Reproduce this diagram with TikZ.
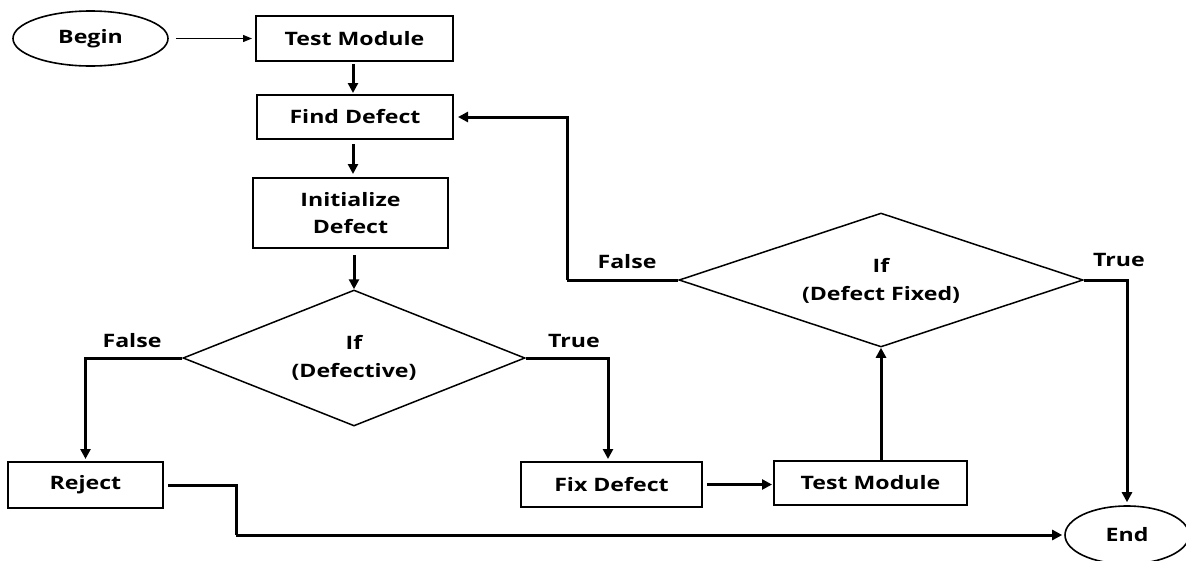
\documentclass[tikz,border=0pt]{standalone}
\usepackage{fontspec}
\setmainfont{Open Sans}[FakeStretch=1.25]
\usetikzlibrary{shapes.geometric,arrows.meta,calc}
\begin{document}
\begin{tikzpicture}[x=1pt,y=-1pt,
  every node/.style={font=\bfseries\fontsize{18.5}{27.5}\selectfont},
  box/.style={draw,line width=2pt,rectangle,inner sep=0pt,align=center},
  oval/.style={draw,line width=1.6pt,ellipse,inner sep=0pt},
  decide/.style={draw,line width=1.5pt,diamond,inner sep=0pt},
  conn/.style={line width=3pt,-{Triangle[length=10pt,width=10pt]}},
  thinconn/.style={line width=1.2pt,-{Triangle[length=9pt,width=7pt]}},
  seg/.style={line width=3pt},
  lbl/.style={inner sep=0pt,align=center}]
\useasboundingbox (0,0) rectangle (1186,560);
\node[oval,minimum width=155pt,minimum height=55pt] (begin) at (90.5,38.5) {Begin};
\node[box,minimum width=197pt,minimum height=45pt] (tm1) at (354.5,38.5) {Test Module};
\node[box,minimum width=196pt,minimum height=44pt] (find) at (355,117) {Find Defect};
\node[box,minimum width=195pt,minimum height=70pt] (init) at (350.5,213) {Initialize\\Defect};
\node[decide,minimum width=342pt,minimum height=136pt] (dec1) at (354,358) {};
\node[lbl] (dec1t) at (354,358) {If\\(Defective)};
\node[decide,minimum width=404pt,minimum height=134pt] (dec2) at (881,280) {};
\node[lbl] (dec2t) at (881,281) {If\\(Defect Fixed)};
\node[box,minimum width=155pt,minimum height=46pt] (reject) at (85.5,485) {Reject};
\node[box,minimum width=181pt,minimum height=45pt] (fix) at (611.5,484.5) {Fix Defect};
\node[box,minimum width=193pt,minimum height=44pt] (tm2) at (870.5,483) {Test Module};
\node[oval,minimum width=124pt,minimum height=58pt] (end) at (1127,535) {End};

\node[lbl] (f1) at (132,341) {False};
\node[lbl] (t1) at (574,341) {True};
\node[lbl] (f2) at (627,262) {False};
\node[lbl] (t2) at (1119,260) {True};

\coordinate (b1) at (236,535);
\coordinate (b2) at (567,280);

\draw[thinconn,shorten <=7pt,shorten >=3pt] (begin.east) -- (tm1.west);
\draw[conn,shorten <=2pt,shorten >=1pt] (tm1.south -| 353,0) -- (find.north -| 353,0);
\draw[conn,shorten <=4pt,shorten >=3pt] (find.south -| 353,0) -- (init.north -| 353,0);
\draw[conn,shorten <=6pt] (init.south -| dec1.north) -- (dec1.north);
\draw[conn,shorten >=2pt] (dec1.west) -| (reject.north);
\draw[conn,shorten >=2pt] (dec1.east) -| (fix.north -| 608,0);
\draw[conn,shorten <=4pt,shorten >=1pt] (fix.east) -- (fix.east -| tm2.west);
\draw[conn] (tm2.north -| dec2.south) -- (dec2.south);
\draw[seg] (dec2.west) -- (b2);
\draw[conn,shorten >=4pt] (b2) |- (find.east);
\draw[conn,shorten >=3pt] (dec2.east) -| (end.north);
\draw[seg] ([xshift=4pt]reject.east) -| (b1);
\draw[conn,shorten >=2pt] (b1) -- (end.west);
\end{tikzpicture}
\end{document}
